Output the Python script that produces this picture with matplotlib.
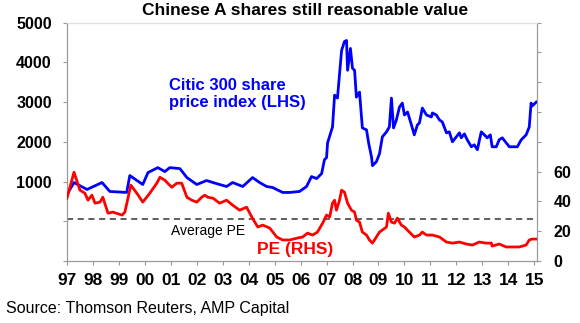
import matplotlib
matplotlib.use("Agg")
import matplotlib.pyplot as plt
from matplotlib.ticker import FixedLocator, FuncFormatter

plt.rcParams['font.family'] = ['Liberation Sans', 'DejaVu Sans']

# Citic 300 share price index (LHS)
index_years = [
    1997.0, 1997.27, 1997.77, 1998.35, 1998.65, 1999.3, 1999.42, 1999.92,
    2000.12, 2000.5, 2000.77, 2000.96, 2001.35, 2001.62, 2002.0, 2002.38,
    2002.62, 2002.88, 2003.15, 2003.38, 2003.77, 2004.15, 2004.42, 2004.69,
    2004.92, 2005.31, 2005.58, 2005.96, 2006.23, 2006.42, 2006.62, 2006.81,
    2006.92, 2007.0, 2007.04, 2007.23, 2007.31, 2007.42, 2007.58, 2007.69,
    2007.77, 2007.81, 2007.92, 2008.0, 2008.08, 2008.15, 2008.27, 2008.38,
    2008.54, 2008.62, 2008.73, 2008.77, 2008.92, 2009.04, 2009.15, 2009.31,
    2009.42, 2009.5, 2009.58, 2009.69, 2009.81, 2009.92, 2010.0, 2010.12,
    2010.27, 2010.38, 2010.5, 2010.58, 2010.69, 2010.85, 2011.04, 2011.08,
    2011.23, 2011.35, 2011.46, 2011.62, 2011.73, 2011.85, 2012.0, 2012.12,
    2012.19, 2012.31, 2012.42, 2012.58, 2012.69, 2012.81, 2012.96, 2013.08,
    2013.19, 2013.31, 2013.38, 2013.54, 2013.65, 2013.77, 2013.92, 2014.04,
    2014.15, 2014.35, 2014.5, 2014.69, 2014.81, 2014.88, 2014.92, 2015.08,
]
index_values = [
    675, 975, 800, 975, 750, 725, 1150, 925,
    1225, 1350, 1250, 1350, 1325, 1100, 925, 1025,
    975, 925, 875, 975, 875, 1100, 975, 875,
    850, 725, 725, 750, 875, 1125, 1075, 1200,
    1550, 1600, 1975, 2375, 3175, 3100, 4300, 4525,
    4550, 3800, 4350, 3850, 3800, 3125, 3250, 2350,
    2300, 1975, 1625, 1400, 1500, 1700, 2125, 2250,
    2375, 3100, 2350, 2550, 2875, 2975, 2675, 2750,
    2425, 2175, 2425, 2475, 2850, 2675, 2625, 2725,
    2675, 2550, 2500, 2225, 2250, 2000, 2125, 2225,
    2100, 2200, 2050, 1875, 1925, 1800, 2250, 2175,
    2100, 2175, 1875, 1875, 2050, 2100, 1975, 1875,
    1875, 1875, 2050, 2175, 2375, 2975, 2900, 3000,
]

# PE ratio (RHS)
pe_years = [
    1997.0, 1997.27, 1997.5, 1997.69, 1997.81, 1997.96, 1998.08, 1998.27,
    1998.38, 1998.58, 1998.77, 1999.12, 1999.23, 1999.46, 1999.69, 1999.92,
    2000.19, 2000.46, 2000.58, 2000.77, 2000.88, 2001.04, 2001.23, 2001.42,
    2001.62, 2001.81, 2002.0, 2002.19, 2002.31, 2002.42, 2002.62, 2002.88,
    2003.15, 2003.38, 2003.65, 2003.92, 2004.12, 2004.35, 2004.54, 2004.81,
    2005.08, 2005.31, 2005.58, 2005.88, 2006.08, 2006.27, 2006.46, 2006.65,
    2006.85, 2007.0, 2007.12, 2007.23, 2007.31, 2007.38, 2007.5, 2007.58,
    2007.69, 2007.81, 2007.96, 2008.08, 2008.15, 2008.27, 2008.38, 2008.54,
    2008.65, 2008.77, 2008.92, 2009.04, 2009.31, 2009.38, 2009.5, 2009.62,
    2009.73, 2009.88, 2010.0, 2010.19, 2010.38, 2010.58, 2010.69, 2010.85,
    2011.08, 2011.35, 2011.62, 2011.85, 2012.12, 2012.38, 2012.62, 2012.88,
    2013.15, 2013.35, 2013.38, 2013.65, 2013.92, 2014.15, 2014.42, 2014.69,
    2014.81, 2014.92, 2015.08,
]
pe_values = [
    42.2, 59.6, 47.5, 45.5, 40.8, 44.2, 38.8, 39.5,
    42.8, 32.1, 32.8, 30.8, 32.8, 50.9, 45.5, 39.5,
    45.5, 52.2, 56.2, 54.2, 52.2, 49.5, 52.2, 52.2,
    42.8, 40.8, 39.5, 42.8, 44.2, 42.8, 42.2, 38.8,
    40.8, 37.5, 34.1, 36.1, 29.5, 22.8, 24.1, 22.1,
    16.1, 14.1, 14.1, 15.4, 16.1, 18.7, 17.4, 19.4,
    25.4, 30.8, 29.5, 38.8, 40.8, 34.1, 40.8, 47.5,
    46.2, 38.8, 34.1, 32.8, 27.4, 26.1, 19.4, 17.4,
    14.1, 12.0, 16.1, 19.4, 22.8, 32.1, 26.1, 25.4,
    28.8, 24.1, 22.8, 19.4, 16.1, 17.4, 19.4, 17.4,
    17.4, 16.1, 12.7, 12.0, 12.7, 11.4, 10.7, 12.7,
    12.0, 12.0, 10.0, 11.4, 9.4, 9.4, 9.4, 10.7,
    14.1, 14.7, 14.7,
]
average_pe = 28.0

year_ticks = list(range(1997, 2016))
year_labels = ['%02d' % (y % 100) for y in year_ticks]

fig = plt.figure(figsize=(5.8, 3.23), dpi=100)
ax = fig.add_axes([0.1155, 0.192, 0.81, 0.738])
ax2 = ax.twinx()

ax.plot(index_years, index_values, color='#0000FF', lw=2.0, zorder=3)
ax2.plot(pe_years, pe_values, color='#FF0000', lw=2.0, zorder=3)
ax2.axhline(average_pe, color='#333333', lw=1.1, ls=(0, (4, 3)), zorder=2)

ax.set_xlim(1997.0, 2015.1)
ax.set_ylim(-1000, 5000)
ax2.set_ylim(0, 160)

ax.xaxis.set_major_locator(FixedLocator(year_ticks))
ax.set_xticklabels(year_labels)
ax.yaxis.set_major_locator(FixedLocator(range(-1000, 5001, 1000)))
ax.yaxis.set_major_formatter(FuncFormatter(lambda v, p: '%d' % v if v > 0 else ''))
ax2.yaxis.set_major_locator(FixedLocator(range(0, 161, 20)))
ax2.yaxis.set_major_formatter(FuncFormatter(lambda v, p: '%d' % v if v <= 60 else ''))

for a in (ax, ax2):
    for side in ('left', 'right', 'bottom'):
        a.spines[side].set_color('#999999')
    a.spines['top'].set_color('#dddddd')
    a.tick_params(colors='#999999', labelcolor='black', width=0.8, length=3)

ax.tick_params(axis='y', pad=8, labelsize=11.5)
ax.tick_params(axis='x', pad=6, labelsize=12.5)
ax2.tick_params(axis='y', pad=9, labelsize=11.5)
for lab in ax.get_xticklabels() + ax.get_yticklabels() + ax2.get_yticklabels():
    lab.set_fontweight('bold')

ax.text(2000.92, 3200, 'Citic 300 share\nprice index (LHS)', color='#0000FF',
        fontsize=12, fontweight='bold', va='center', ha='left', linespacing=1.15)
ax2.text(2005.8, 7.5, 'PE (RHS)', color='#FF0000', fontsize=12.5,
         fontweight='bold', ha='center', va='center')
ax2.text(2002.42, 20.0, 'Average PE', color='black', fontsize=10,
         ha='center', va='center')

fig.text(0.526, 0.966, 'Chinese A shares still reasonable value', ha='center',
         va='center', fontsize=12.5, fontweight='bold')
fig.text(0.01, 0.045, 'Source: Thomson Reuters, AMP Capital', ha='left',
         va='center', fontsize=11.5)

fig.savefig('out.png', dpi=100)
